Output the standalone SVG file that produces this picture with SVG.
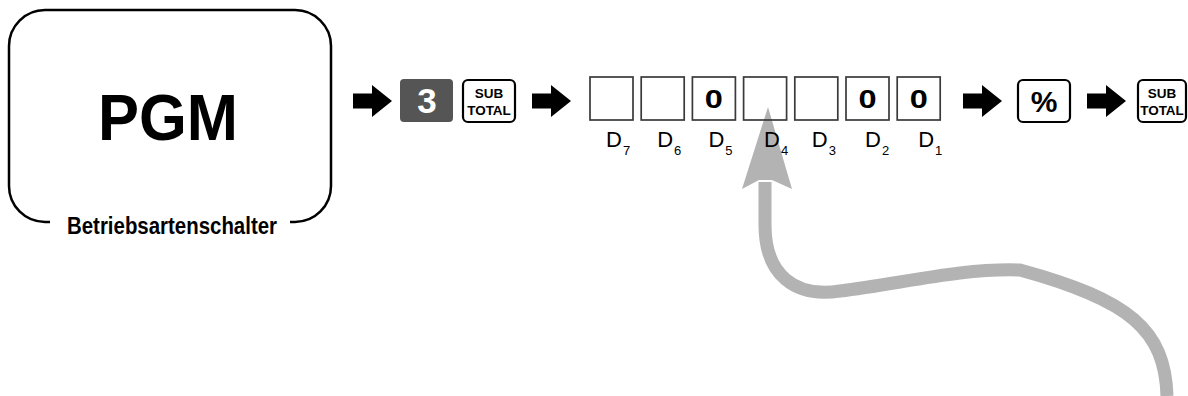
<svg xmlns="http://www.w3.org/2000/svg" width="1188" height="396" viewBox="0 0 1188 396">
<style>
.t{font-family:"Liberation Sans",Arial,sans-serif;}
.b{font-weight:bold;}
.cell{fill:none;stroke:#3a3a3a;stroke-width:1.7;}
.key{fill:#fff;stroke:#000;stroke-width:2.2;}
.arr{fill:#000;}
.dl{font-size:22px;fill:#000;}
.ds{font-size:13px;}
.z{font-size:26px;font-weight:bold;text-anchor:middle;}
.st{font-size:13.5px;font-weight:bold;text-anchor:middle;}
</style>
<defs>
<path id="ar" d="M0,-7.5 H19 V-16 L39,0 L19,16 V7.5 H0 Z"/>
</defs>
<rect width="1188" height="396" fill="#fff"/>
<g id="mode-switch">
<path d="M50,222 H45 A36,36 0 0 1 9,186 V46 A36,36 0 0 1 45,10 H295 A36,36 0 0 1 331,46 V186 A36,36 0 0 1 295,222 H290" fill="none" stroke="#000" stroke-width="2.5"/>
<text class="t b" x="168" y="140" font-size="64" text-anchor="middle" textLength="140" lengthAdjust="spacingAndGlyphs">PGM</text>
<text class="t b" x="67" y="234" font-size="23.5" textLength="210" lengthAdjust="spacingAndGlyphs">Betriebsartenschalter</text>
</g>
<g id="connectors">
<use href="#ar" class="arr" x="353" y="101"/>
<use href="#ar" class="arr" x="532" y="101"/>
<use href="#ar" class="arr" x="963" y="101"/>
<use href="#ar" class="arr" x="1087" y="101"/>
</g>
<g id="key-3">
<rect x="400" y="79" width="53" height="43" rx="4" fill="#555"/>
<text class="t b" x="427" y="113" font-size="35" fill="#fff" text-anchor="middle">3</text>
</g>
<g id="key-subtotal-1">
<rect class="key" x="463" y="80" width="52" height="42" rx="5"/>
<text class="t st" x="489" y="98">SUB</text>
<text class="t st" x="489" y="115">TOTAL</text>
</g>
<g id="pointer">
<path d="M1167,396 C1165,330 1130,300 1020,270 C960,268 900,284 840,291 C795,298 765,275 765,225 L765,182" fill="none" stroke="#b3b3b3" stroke-width="13"/>
<polygon points="768,107 792,189 772,180 759,180 742,189" fill="#b3b3b3"/>
</g>
<g id="digits">
<rect class="cell" x="590" y="77" width="43" height="43"/>
<rect class="cell" x="641.2" y="77" width="43" height="43"/>
<rect class="cell" x="692.4" y="77" width="43" height="43"/>
<rect class="cell" x="743.6" y="77" width="43" height="43"/>
<rect class="cell" x="794.8" y="77" width="43" height="43"/>
<rect class="cell" x="846" y="77" width="43" height="43"/>
<rect class="cell" x="897.2" y="77" width="43" height="43"/>
<text class="t z" transform="translate(713.9,107.5) scale(1.25,1)">0</text>
<text class="t z" transform="translate(867.5,107.5) scale(1.25,1)">0</text>
<text class="t z" transform="translate(918.7,107.5) scale(1.25,1)">0</text>
<text class="t dl" x="606" y="147">D<tspan class="ds" dx="1" dy="8">7</tspan></text>
<text class="t dl" x="657.2" y="147">D<tspan class="ds" dx="1" dy="8">6</tspan></text>
<text class="t dl" x="708.4" y="147">D<tspan class="ds" dx="1" dy="8">5</tspan></text>
<text class="t dl" x="764" y="147">D<tspan class="ds" dx="1" dy="8">4</tspan></text>
<text class="t dl" x="811.8" y="147">D<tspan class="ds" dx="1" dy="8">3</tspan></text>
<text class="t dl" x="865" y="147">D<tspan class="ds" dx="1" dy="8">2</tspan></text>
<text class="t dl" x="918.2" y="147">D<tspan class="ds" dx="1" dy="8">1</tspan></text>
</g>
<g id="key-percent">
<rect class="key" x="1018" y="80" width="52" height="42" rx="5"/>
<text class="t b" x="1044" y="112" font-size="30" text-anchor="middle">%</text>
</g>
<g id="key-subtotal-2">
<rect class="key" x="1138" y="80" width="48" height="42" rx="5"/>
<text class="t st" x="1162" y="98">SUB</text>
<text class="t st" x="1162" y="115">TOTAL</text>
</g>
</svg>
